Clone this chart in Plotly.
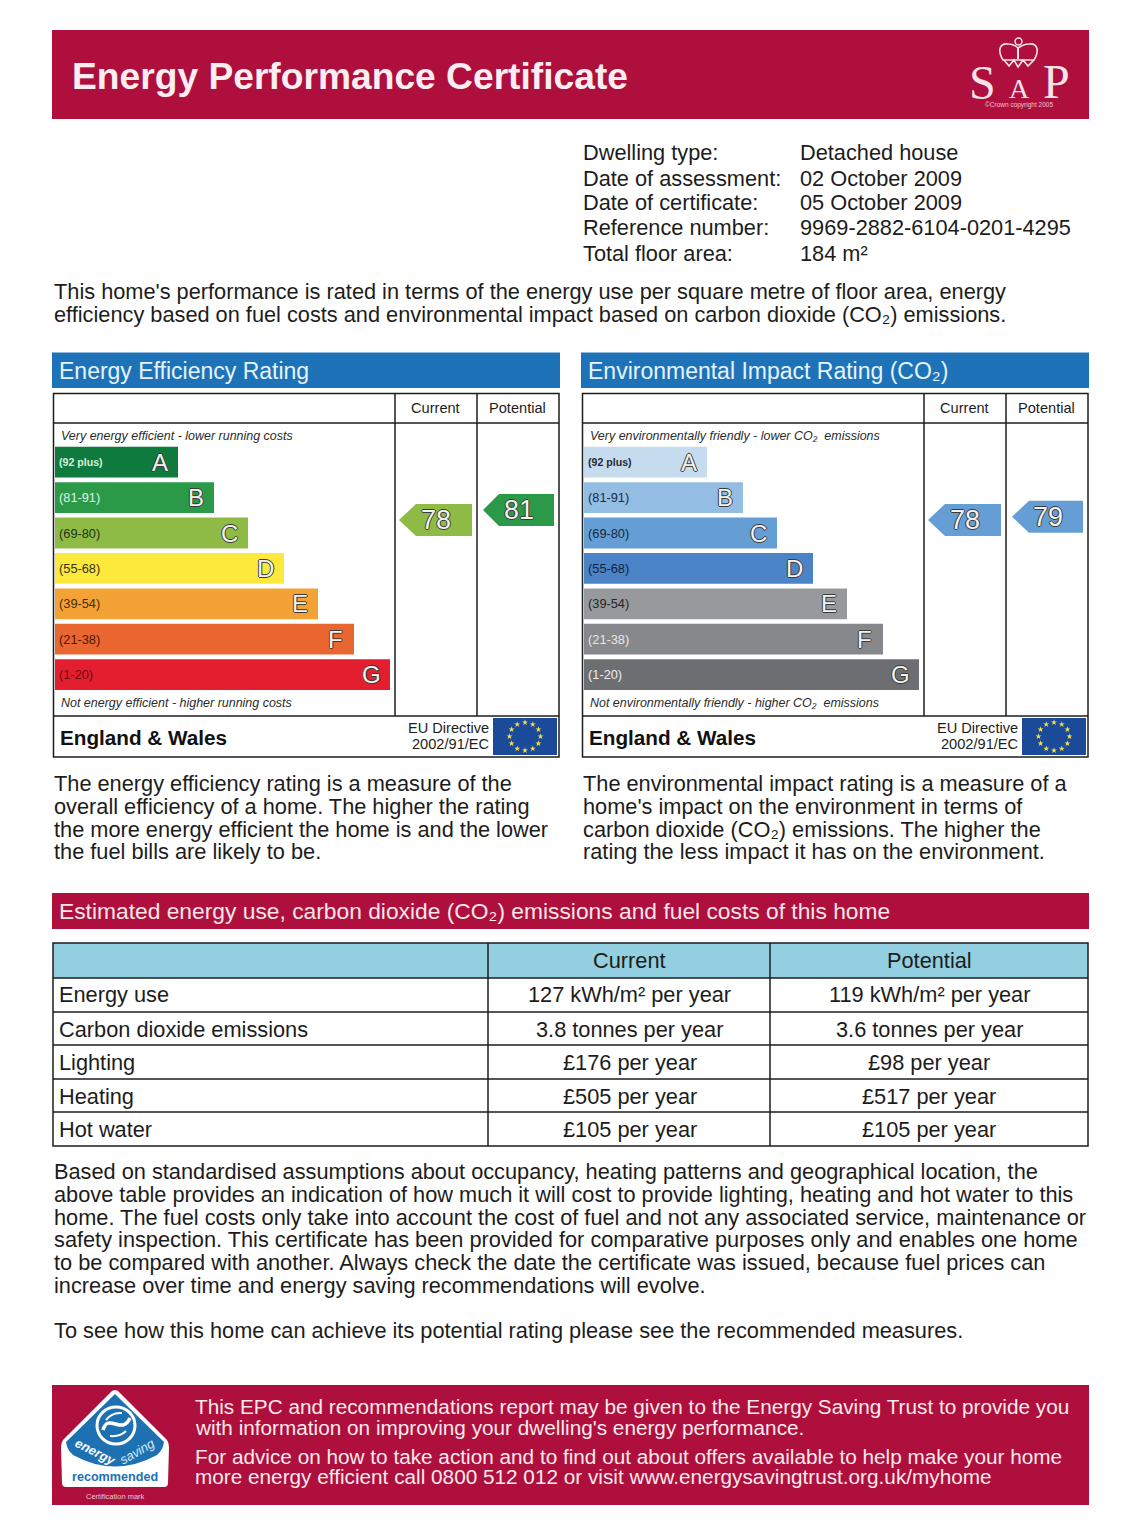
import math
import plotly.graph_objects as go

W, H = 1140, 1523
FONT = "Liberation Sans"
CRIMSON = "#ae0f3c"
BLUE = "#1e73b8"
DARK = "#1c1c1c"

# ---------- data ----------
bands = ["A", "B", "C", "D", "E", "F", "G"]
band_ranges = ["(92 plus)", "(81-91)", "(69-80)", "(55-68)", "(39-54)", "(21-38)", "(1-20)"]
band_lengths = [123, 159, 193, 229, 263, 299, 335]
energy_colors = ["#0e7a3e", "#2b9a48", "#8dbb45", "#fde93b", "#f3a236", "#ea6630", "#e31e2e"]
env_colors = ["#c7dbef", "#93bde2", "#659ed5", "#4a83c6", "#98999d", "#87888b", "#6d6e71"]
energy_label_colors = ["#d5efdd", "#e0f3e5", "#1e3312", "#333311", "#4a2c08", "#4c1608", "#6b0a14"]
env_label_colors = ["#222b33", "#1e2c3c", "#16283c", "#10233c", "#26262a", "#e6e6e8", "#ededf0"]

energy_current, energy_potential = 78, 81
env_current, env_potential = 78, 79

dwelling_labels = ["Dwelling type:", "Date of assessment:", "Date of certificate:", "Reference number:", "Total floor area:"]
dwelling_values = ["Detached house", "02 October 2009", "05 October 2009", "9969-2882-6104-0201-4295", "184 m²"]

intro_lines = [
    "This home's performance is rated in terms of the energy use per square metre of floor area, energy",
    "efficiency based on fuel costs and environmental impact based on carbon dioxide (CO₂) emissions.",
]
energy_text = [
    "The energy efficiency rating is a measure of the",
    "overall efficiency of a home. The higher the rating",
    "the more energy efficient the home is and the lower",
    "the fuel bills are likely to be.",
]
env_text = [
    "The environmental impact rating is a measure of a",
    "home's impact on the environment in terms of",
    "carbon dioxide (CO₂) emissions. The higher the",
    "rating the less impact it has on the environment.",
]
table_head = ["Current", "Potential"]
table_rows = ["Energy use", "Carbon dioxide emissions", "Lighting", "Heating", "Hot water"]
table_current = ["127 kWh/m² per year", "3.8 tonnes per year", "£176 per year", "£505 per year", "£105 per year"]
table_potential = ["119 kWh/m² per year", "3.6 tonnes per year", "£98 per year", "£517 per year", "£105 per year"]
body_lines = [
    "Based on standardised assumptions about occupancy, heating patterns and geographical location, the",
    "above table provides an indication of how much it will cost to provide lighting, heating and hot water to this",
    "home. The fuel costs only take into account the cost of fuel and not any associated service, maintenance or",
    "safety inspection. This certificate has been provided for comparative purposes only and enables one home",
    "to be compared with another. Always check the date the certificate was issued, because fuel prices can",
    "increase over time and energy saving recommendations will evolve.",
]
closing_line = "To see how this home can achieve its potential rating please see the recommended measures."
footer_lines = [
    "This EPC and recommendations report may be given to the Energy Saving Trust to provide you",
    "with information on improving your dwelling's energy performance.",
    "For advice on how to take action and to find out about offers available to help make your home",
    "more energy efficient call 0800 512 012 or visit www.energysavingtrust.org.uk/myhome",
]

# ---------- helpers ----------
shapes, notes = [], []
fig = go.Figure()


def text(x, y, s, size=21.75, color=DARK, anchor="left", weight=None, style=None, family=FONT,
         xref="x", yref="y", shadow=None, angle=0):
    f = dict(family=family, size=size, color=color)
    if weight:
        f["weight"] = weight
    if style:
        f["style"] = style
    if shadow:
        f["shadow"] = shadow
    notes.append(dict(x=x, y=y - 1, xref=xref, yref=yref, text=s, showarrow=False, xanchor=anchor,
                      yanchor="middle", font=f, textangle=angle, borderpad=0, borderwidth=0))


def rect(x0, y0, x1, y1, fill=None, line=None, lw=1.5):
    shapes.append(dict(type="rect", xref="x", yref="y", x0=x0, y0=y0, x1=x1, y1=y1, layer="below",
                       fillcolor=fill or "rgba(0,0,0,0)",
                       line=dict(color=line or "rgba(0,0,0,0)", width=lw if line else 0)))


def hline(x0, x1, y, lw=1.5, color=DARK):
    shapes.append(dict(type="line", xref="x", yref="y", x0=x0, x1=x1, y0=y, y1=y, layer="below",
                       line=dict(color=color, width=lw)))


def vline(x, y0, y1, lw=1.5, color=DARK):
    shapes.append(dict(type="line", xref="x", yref="y", x0=x, x1=x, y0=y0, y1=y1, layer="below",
                       line=dict(color=color, width=lw)))


def path(d, fill=None, line=None, lw=1.0, layer="above"):
    shapes.append(dict(type="path", xref="x", yref="y", path=d, layer=layer,
                       fillcolor=fill or "rgba(0,0,0,0)",
                       line=dict(color=line or "rgba(0,0,0,0)", width=lw if line else 0)))


OUTLINE = "-1px 0 0 #3a3a3a,1px 0 0 #3a3a3a,0 -1px 0 #3a3a3a,0 1px 0 #3a3a3a"

# ---------- banners ----------
rect(52, 30, 1089, 119, CRIMSON)
text(72, 77, "Energy Performance Certificate", size=37.2, color="#fbeef1", weight=700)
LOGO = "#f6e3e8"
text(982, 83, "S", size=48, color=LOGO, anchor="center", family="Liberation Serif")
text(1019, 89, "A", size=28, color=LOGO, anchor="center", family="Liberation Serif")
text(1056, 82, "P", size=48, color=LOGO, anchor="center", family="Liberation Serif")
text(1019, 106, "©Crown copyright 2005", size=6.5, color="#eec6d0", anchor="center")
path("M1003 60 C997 50 1000 43 1008 44 C1012 44 1016 46 1018 48 C1021 46 1025 44 1029 44 "
     "C1037 43 1040 50 1034 60 Z", None, LOGO, 1.6)
path("M1004 60 L1009 66 L1014 60 L1018 67 L1023 60 L1028 66 L1034 60", None, LOGO, 1.6)
path("M1018 48 L1018 59", None, LOGO, 2)
shapes.append(dict(type="circle", xref="x", yref="y", x0=1015, x1=1022, y0=38, y1=45, layer="above",
                   line=dict(color=LOGO, width=1.4)))

for i, (lab, val) in enumerate(zip(dwelling_labels, dwelling_values)):
    y = [153, 179, 203, 228, 254][i]
    text(583, y, lab)
    text(800, y, val)

for y, s in zip([292, 315], intro_lines):
    text(54, y, s)


# ---------- rating panels ----------
def panel(x_off, title, band_colors, label_colors, top_note, bottom_note, current, potential,
          arrow_cur, arrow_pot, xaxis, pts):
    rect(52 + x_off, 352.5, 560 + x_off, 388, BLUE)
    text(59 + x_off, 372, title, size=23, color="#e6f4fb")
    L = 53.5 + x_off
    R = 559 + x_off
    rect(L, 393.5, R, 757, None, DARK)
    hline(L, R, 423)
    hline(L, R, 716)
    vline(395 + x_off, 393.5, 716)
    vline(477 + x_off, 393.5, 716)
    text(435.5 + x_off, 409, "Current", size=14.6, anchor="center")
    text(517.5 + x_off, 409, "Potential", size=14.6, anchor="center")
    text(61 + x_off, 437, top_note, size=12.47, style="italic", color="#2b2b2b")
    text(61 + x_off, 704, bottom_note, size=12.47, style="italic", color="#2b2b2b")
    text(60 + x_off, 738, "England &amp; Wales", size=20.7, weight=700, color="#111111")
    text(489 + x_off, 729, "EU Directive", size=14.6, anchor="right")
    text(489 + x_off, 745, "2002/91/EC", size=14.6, anchor="right")
    rect(493 + x_off, 718, 557 + x_off, 755, "#1b4a9b")
    fig.add_trace(go.Scatter(
        x=[525 + x_off + 15.5 * math.sin(math.radians(a)) for a in range(0, 360, 30)],
        y=[736.5 - 14 * math.cos(math.radians(a)) for a in range(0, 360, 30)],
        mode="markers", marker=dict(symbol="star", size=4.5, color="#f5e04a"),
        hoverinfo="skip", showlegend=False, xaxis="x", yaxis="y"))
    fig.add_trace(go.Bar(
        y=bands, x=band_lengths, orientation="h", marker=dict(color=band_colors, line=dict(width=0)),
        xaxis=xaxis, yaxis="y2", hoverinfo="skip", showlegend=False))
    for b, r, n, c in zip(bands, band_ranges, band_lengths, label_colors):
        notes.append(dict(x=1.5, y=b, xref=xaxis, yref="y2", text=r, showarrow=False, xanchor="left", yanchor="middle",
                          font=dict(family=FONT, size=10.6 if r == "(92 plus)" else 12.8, color=c,
                                    weight=700 if r == "(92 plus)" else 400)))
        notes.append(dict(x=n - 18.5, y=b, xref=xaxis, yref="y2", text=b, showarrow=False, xanchor="center", yanchor="middle",
                          font=dict(family=FONT, size=24, color="#f2f2ee", shadow=OUTLINE)))
    for rating, spec in ((current, arrow_cur), (potential, arrow_pot)):
        tip, body, right, col = spec
        half = 16 / pts
        fig.add_trace(go.Scatter(
            x=[tip + x_off, body + x_off, right + x_off, right + x_off, body + x_off, tip + x_off],
            y=[rating, rating + half, rating + half, rating - half, rating - half, rating],
            mode="lines", fill="toself", fillcolor=col, line=dict(width=0), hoverinfo="skip",
            showlegend=False, xaxis="x", yaxis="y3"))
        notes.append(dict(x=(tip + right) / 2 + x_off, y=rating, xref="x", yref="y3", text=str(rating), showarrow=False,
                          xanchor="center", yanchor="middle",
                          font=dict(family=FONT, size=27, color="#f2f2ee", shadow=OUTLINE)))


PX_PER_POINT = 3.3
panel(0, "Energy Efficiency Rating", energy_colors, energy_label_colors,
      "Very energy efficient - lower running costs", "Not energy efficient - higher running costs",
      energy_current, energy_potential,
      (399, 416, 472, energy_colors[2]), (483, 499, 554, energy_colors[1]), "x2", PX_PER_POINT)
panel(529, "Environmental Impact Rating (CO₂)", env_colors, env_label_colors,
      "Very environmentally friendly - lower CO₂  emissions", "Not environmentally friendly - higher CO₂  emissions",
      env_current, env_potential,
      (399, 416, 472, env_colors[2]), (483, 500, 554, env_colors[2]), "x3", PX_PER_POINT)

for y, a, b in zip([784, 807, 830, 852], energy_text, env_text):
    text(54, y, a)
    text(583, y, b)

# ---------- table ----------
rect(52, 893, 1089, 929, CRIMSON)
text(59, 912, "Estimated energy use, carbon dioxide (CO₂) emissions and fuel costs of this home", size=22.8, color="#f6e6ea")
rect(53, 943, 1088, 978, "#92cfe0")
rect(53, 943, 1088, 1146, None, DARK)
for y in [978, 1012, 1045, 1079, 1112]:
    hline(53, 1088, y)
for x in [488, 770]:
    vline(x, 943, 1146)
text(629.5, 961, table_head[0], anchor="center")
text(929, 961, table_head[1], anchor="center")
for y, n, c, p in zip([995, 1030, 1063, 1097, 1130], table_rows, table_current, table_potential):
    text(59, y, n)
    text(629.5, y, c, anchor="center")
    text(929, y, p, anchor="center")

for y, s in zip([1172, 1195, 1218, 1240, 1263, 1286], body_lines):
    text(54, y, s)
text(54, 1331, closing_line)

# ---------- footer ----------
rect(52, 1385, 1089, 1505, CRIMSON)
for y, s in zip([1407, 1428, 1457, 1477], footer_lines):
    text(195, y, s, size=20.75, color="#fbe9ed")
path("M115 1390 Q118 1390 120 1393 L167 1440 Q169 1443 169 1447 L168 1483 Q168 1487 164 1487 L66 1487 "
     "Q62 1487 62 1483 L61 1447 Q61 1443 63 1440 L110 1393 Q112 1390 115 1390 Z", "#ffffff")
path("M115 1394 L164 1442 Q163 1450 157 1455 Q115 1478 73 1455 Q67 1450 66 1442 Z", "#1d71b3")
shapes.append(dict(type="circle", xref="x", yref="y", x0=97, x1=135, y0=1407, y1=1444, layer="above",
                   line=dict(color="#ffffff", width=3), fillcolor="#1d71b3"))
path("M103 1430 C108 1412 122 1436 130 1418", None, "#ffffff", 3.5)
path("M106 1420 Q112 1412 122 1413", None, "#ffffff", 2)
path("M126 1431 Q120 1437 110 1436", None, "#ffffff", 2)
text(95, 1452, "energy", size=13, color="#ffffff", anchor="center", angle=27, weight=700, style="italic")
text(137, 1452, "saving", size=13, color="#d6e8f5", anchor="center", angle=-30, style="italic")
text(115, 1478, "recommended", size=12.6, color="#1d71b3", anchor="center", weight=700)
text(115, 1497, "Certification mark", size=7.5, color="#f0c8d2", anchor="center")

# ---------- layout ----------
def dom(px_top, px_bot):
    return [1 - px_bot / H, 1 - px_top / H]


hidden = dict(visible=False, fixedrange=True)
# Rating axis: rating 78 sits at 520 px, with PX_PER_POINT pixels per rating point.
rating_top = 78 + 520 / PX_PER_POINT
rating_bottom = 78 - (H - 520) / PX_PER_POINT
fig.update_layout(
    width=W, height=H, margin=dict(l=0, r=0, t=0, b=0, pad=0),
    autosize=False, paper_bgcolor="#ffffff", plot_bgcolor="rgba(0,0,0,0)",
    showlegend=False, bargap=0.13, hovermode=False,
    xaxis=dict(hidden, range=[0, W], domain=[0, 1]),
    yaxis=dict(hidden, range=[H, 0], domain=[0, 1]),
    xaxis2=dict(hidden, range=[0, 335], domain=[55 / W, 390 / W], anchor="y2"),
    xaxis3=dict(hidden, range=[0, 335], domain=[584 / W, 919 / W], anchor="y2"),
    yaxis2=dict(hidden, type="category", categoryorder="array", categoryarray=bands,
                range=[6.5, -0.5], domain=dom(444.5, 692.3), anchor="x2"),
    yaxis3=dict(hidden, range=[rating_bottom, rating_top], domain=[0, 1], anchor="x", overlaying="y"),
    shapes=shapes, annotations=notes,
)
fig.write_html("out.html", config=dict(displayModeBar=False, staticPlot=True),
               post_script="document.body.style.margin='0';document.body.style.overflow='hidden';")
